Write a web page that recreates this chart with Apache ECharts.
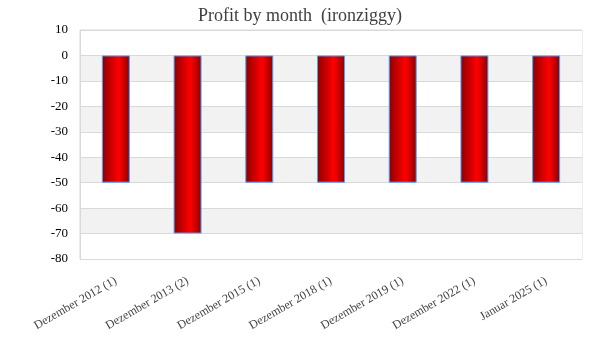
<!DOCTYPE html>
<html><head><meta charset="utf-8">
<script src="https://cdn.jsdelivr.net/npm/echarts@6/dist/echarts.min.js"></script>
<style>html,body{margin:0;padding:0;background:#fff}#c{width:600px;height:360px}</style>
</head><body><div id="c"></div>
<script>
const categories = ["Dezember 2012 (1)","Dezember 2013 (2)","Dezember 2015 (1)","Dezember 2018 (1)","Dezember 2019 (1)","Dezember 2022 (1)","Januar 2025 (1)"];
const profit = [-50,-70,-50,-50,-50,-50,-50];
const titleText = "Profit by month  (ironziggy)";
const chart = echarts.init(document.getElementById('c'));
const font = "Liberation Serif";
chart.setOption({
  animation:false,
  title:{text:titleText,left:'center',top:2,textStyle:{fontFamily:font,fontSize:18,fontWeight:'normal',color:'#404040'}},
  grid:{left:80,right:18,top:30,bottom:101},
  xAxis:{type:'category',data:categories,
    axisLine:{show:false},axisTick:{show:false},
    axisLabel:{rotate:30,interval:0,fontFamily:font,fontSize:12,color:'#404040',margin:21}},
  yAxis:{type:'value',min:-80,max:10,interval:10,
    axisLine:{show:true,lineStyle:{color:'#d9d9d9'}},
    axisLabel:{fontFamily:font,fontSize:13,color:'#000',margin:12},
    splitLine:{show:true,lineStyle:{color:'#d9d9d9'}},
    splitArea:{show:true,areaStyle:{color:['#ffffff','#f2f2f2']}}},
  series:[{type:'bar',data:profit,barWidth:'39%',
    itemStyle:{borderColor:'#4da3ff',borderWidth:1,
      color:new echarts.graphic.LinearGradient(0,0,1,0,[
        {offset:0,color:'#8b0000'},{offset:0.6,color:'#ff0000'},{offset:1,color:'#8b0000'}])}}],
  graphic:[{type:'rect',shape:{x:80,y:30,width:502,height:229},style:{fill:'none',stroke:'#d9d9d9',lineWidth:1},silent:true}]
});
</script></body></html>
